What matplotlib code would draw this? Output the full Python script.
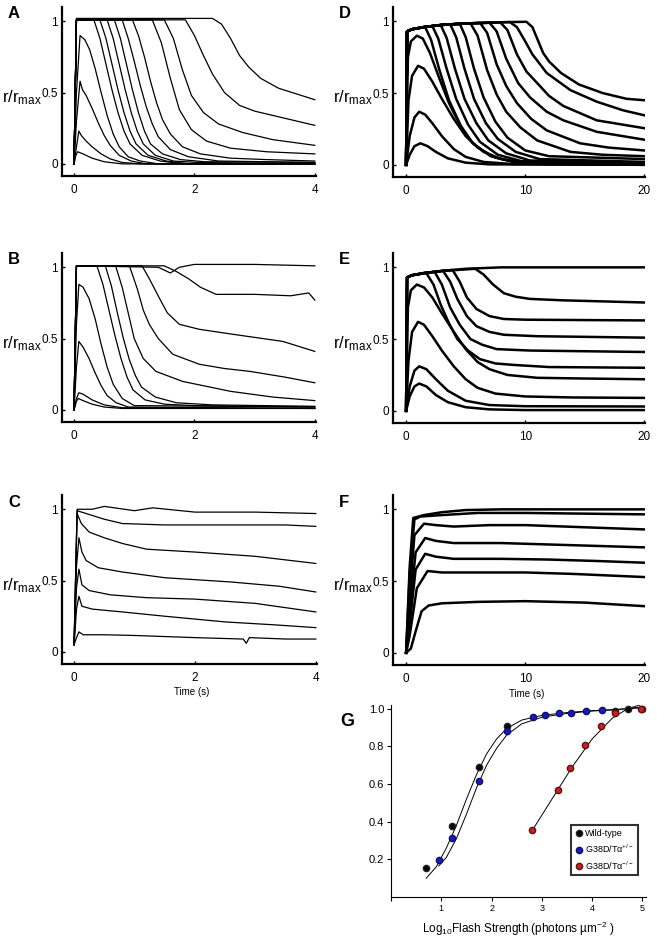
import matplotlib
matplotlib.use("Agg")
import matplotlib.pyplot as plt

plt.rcParams['font.family'] = ['Liberation Sans', 'DejaVu Sans']
plt.rcParams['mathtext.fontset'] = 'custom'
plt.rcParams['mathtext.rm'] = 'Liberation Sans'
plt.rcParams['mathtext.it'] = 'Liberation Sans:italic'
plt.rcParams['mathtext.bf'] = 'Liberation Sans:bold'
plt.rcParams['mathtext.default'] = 'regular'

# ---- recorded responses (A-C), time in s, r/rmax ----
traces_A = [
    ([0, 0.03, 0.06, 0.15, 0.3, 0.5, 0.8, 4.0], [0, 0.06, 0.085, 0.07, 0.04, 0.015, 0.0, 0.0]),
    ([0, 0.04, 0.08, 0.12, 0.2, 0.3, 0.45, 0.6, 0.8, 1.1, 4.0], [0, 0.12, 0.23, 0.2, 0.16, 0.12, 0.07, 0.035, 0.01, 0.0, 0.0]),
    ([0, 0.04, 0.1, 0.14, 0.2, 0.3, 0.4, 0.5, 0.6, 0.75, 0.95, 1.2, 4.0], [0, 0.3, 0.58, 0.52, 0.48, 0.39, 0.29, 0.2, 0.13, 0.06, 0.02, 0.0, 0.0]),
    ([0, 0.04, 0.1, 0.18, 0.26, 0.35, 0.45, 0.55, 0.65, 0.75, 0.9, 1.1, 1.4, 4.0], [0, 0.5, 0.9, 0.87, 0.8, 0.67, 0.5, 0.34, 0.21, 0.12, 0.05, 0.02, 0.0, 0.0]),
    ([0, 0.04, 0.33, 0.43, 0.53, 0.63, 0.73, 0.83, 0.93, 1.13, 1.43, 1.83, 4.0], [0, 1.01, 1.01, 0.88, 0.7, 0.52, 0.36, 0.23, 0.14, 0.06, 0.02, 0.0, 0.0]),
    ([0, 0.04, 0.43, 0.53, 0.63, 0.73, 0.83, 0.93, 1.03, 1.23, 1.53, 1.93, 4.0], [0, 1.01, 1.01, 0.88, 0.7, 0.52, 0.36, 0.23, 0.14, 0.06, 0.02, 0.0, 0.0]),
    ([0, 0.04, 0.55, 0.65, 0.75, 0.85, 0.95, 1.05, 1.15, 1.35, 1.65, 2.05, 4.0], [0, 1.01, 1.01, 0.88, 0.7, 0.52, 0.36, 0.23, 0.14, 0.06, 0.02, 0.01, 0.0]),
    ([0, 0.04, 0.67, 0.77, 0.87, 0.97, 1.07, 1.17, 1.27, 1.47, 1.77, 2.17, 4.0], [0, 1.01, 1.01, 0.88, 0.7, 0.52, 0.36, 0.23, 0.14, 0.07, 0.03, 0.015, 0.01]),
    ([0, 0.04, 0.8, 0.9, 1.0, 1.1, 1.2, 1.3, 1.4, 1.6, 1.9, 2.4, 4.0], [0, 1.01, 1.01, 0.88, 0.72, 0.55, 0.4, 0.28, 0.19, 0.1, 0.05, 0.02, 0.01]),
    ([0, 0.04, 0.97, 1.07, 1.17, 1.27, 1.37, 1.47, 1.6, 1.8, 2.1, 2.6, 3.2, 4.0], [0, 1.01, 1.01, 0.9, 0.75, 0.58, 0.43, 0.31, 0.21, 0.12, 0.07, 0.04, 0.03, 0.02]),
    ([0, 0.04, 1.3, 1.45, 1.6, 1.75, 1.95, 2.2, 2.6, 3.2, 4.0], [0, 1.01, 1.01, 0.85, 0.6, 0.38, 0.24, 0.16, 0.11, 0.085, 0.07]),
    ([0, 0.04, 1.5, 1.65, 1.8, 1.95, 2.15, 2.4, 2.8, 3.3, 4.0], [0, 1.01, 1.01, 0.88, 0.66, 0.48, 0.36, 0.28, 0.22, 0.17, 0.13]),
    ([0, 0.04, 1.85, 2.0, 2.15, 2.3, 2.5, 2.75, 3.0, 3.5, 4.0], [0, 1.01, 1.01, 0.9, 0.76, 0.63, 0.5, 0.41, 0.37, 0.32, 0.27]),
    ([0, 0.04, 2.3, 2.45, 2.6, 2.75, 2.9, 3.1, 3.4, 3.7, 4.0], [0, 1.02, 1.02, 0.98, 0.88, 0.76, 0.68, 0.6, 0.53, 0.49, 0.45]),
]

traces_B = [
    ([0, 0.04, 0.07, 0.15, 0.3, 0.5, 0.8, 4.0], [0, 0.06, 0.08, 0.065, 0.04, 0.02, 0.01, 0.01]),
    ([0, 0.04, 0.08, 0.15, 0.3, 0.5, 0.8, 4.0], [0, 0.08, 0.12, 0.11, 0.07, 0.035, 0.015, 0.01]),
    ([0, 0.04, 0.08, 0.15, 0.25, 0.35, 0.45, 0.55, 0.7, 0.9, 4.0], [0, 0.3, 0.48, 0.44, 0.36, 0.26, 0.17, 0.1, 0.05, 0.02, 0.01]),
    ([0, 0.04, 0.08, 0.15, 0.25, 0.35, 0.45, 0.55, 0.65, 0.8, 1.0, 4.0], [0, 0.6, 0.88, 0.86, 0.78, 0.64, 0.46, 0.3, 0.18, 0.08, 0.03, 0.02]),
    ([0, 0.04, 0.38, 0.48, 0.58, 0.68, 0.78, 0.88, 0.98, 1.18, 1.5, 2.0, 4.0], [0, 1.01, 1.01, 0.88, 0.7, 0.52, 0.36, 0.23, 0.14, 0.07, 0.04, 0.03, 0.02]),
    ([0, 0.04, 0.52, 0.62, 0.72, 0.82, 0.92, 1.02, 1.12, 1.35, 1.7, 2.3, 4.0], [0, 1.01, 1.01, 0.87, 0.68, 0.5, 0.35, 0.24, 0.16, 0.09, 0.05, 0.035, 0.025]),
    ([0, 0.04, 0.69, 0.8, 0.9, 1.0, 1.15, 1.36, 1.8, 2.6, 3.3, 4.0], [0, 1.01, 1.01, 0.86, 0.68, 0.5, 0.36, 0.27, 0.2, 0.13, 0.09, 0.065]),
    ([0, 0.04, 0.92, 1.05, 1.15, 1.25, 1.4, 1.64, 2.08, 2.5, 2.92, 3.5, 4.0], [0, 1.01, 1.01, 0.85, 0.7, 0.6, 0.5, 0.39, 0.32, 0.29, 0.27, 0.23, 0.19]),
    ([0, 0.04, 1.13, 1.25, 1.41, 1.55, 1.75, 2.08, 2.64, 3.47, 4.0], [0, 1.01, 1.01, 0.92, 0.79, 0.68, 0.6, 0.565, 0.53, 0.48, 0.41]),
    ([0, 0.04, 1.5, 1.7, 1.9, 2.1, 2.36, 3.0, 3.6, 3.9, 4.0], [0, 1.01, 1.01, 0.97, 0.92, 0.86, 0.81, 0.81, 0.8, 0.82, 0.77]),
    ([0, 0.04, 1.4, 1.6, 1.75, 2.0, 3.0, 4.0], [0, 1.01, 1.0, 0.96, 1.0, 1.02, 1.02, 1.01]),
]

traces_C = [
    ([0, 0.05, 0.3, 0.5, 1.0, 1.3, 2.0, 3.0, 4.0], [0.05, 1.0, 1.0, 1.02, 0.99, 1.01, 0.98, 0.98, 0.97]),
    ([0, 0.05, 0.2, 0.5, 0.8, 1.5, 2.5, 3.5, 4.0], [0.05, 0.99, 0.97, 0.93, 0.9, 0.89, 0.89, 0.89, 0.88]),
    ([0, 0.05, 0.12, 0.25, 0.5, 0.8, 1.2, 2.0, 3.0, 4.0], [0.05, 0.97, 0.9, 0.84, 0.8, 0.76, 0.72, 0.7, 0.67, 0.62]),
    ([0, 0.04, 0.08, 0.13, 0.2, 0.4, 0.8, 1.5, 2.6, 3.4, 4.0], [0.05, 0.6, 0.8, 0.7, 0.64, 0.59, 0.56, 0.52, 0.49, 0.46, 0.42]),
    ([0, 0.04, 0.08, 0.13, 0.25, 0.6, 1.2, 2.0, 3.0, 4.0], [0.05, 0.45, 0.58, 0.47, 0.43, 0.4, 0.38, 0.37, 0.34, 0.28]),
    ([0, 0.04, 0.08, 0.13, 0.3, 0.8, 1.5, 2.5, 3.3, 4.0], [0.05, 0.3, 0.39, 0.32, 0.3, 0.28, 0.25, 0.21, 0.19, 0.17]),
    ([0, 0.04, 0.08, 0.15, 0.5, 1.0, 2.0, 2.8, 2.85, 2.9, 3.5, 4.0], [0.05, 0.1, 0.14, 0.12, 0.12, 0.115, 0.1, 0.09, 0.06, 0.1, 0.09, 0.09]),
]

# ---- model responses (D-F) ----
traces_D = [
    ([0, 0.3, 0.7, 1.2, 1.8, 2.5, 3.5, 5, 7, 20], [0, 0.07, 0.13, 0.15, 0.13, 0.09, 0.045, 0.015, 0.003, 0]),
    ([0, 0.3, 0.7, 1.1, 1.6, 2.2, 3, 4, 5, 6.5, 9, 20], [0, 0.2, 0.33, 0.37, 0.35, 0.29, 0.2, 0.11, 0.055, 0.02, 0.005, 0]),
    ([0, 0.2, 0.5, 1.0, 1.5, 2.2, 3, 4, 5, 6, 7.5, 9, 12, 20], [0, 0.45, 0.62, 0.69, 0.67, 0.58, 0.46, 0.32, 0.2, 0.12, 0.05, 0.02, 0.005, 0]),
    ([0, 0.15, 0.4, 0.9, 1.4, 2.0, 2.8, 3.6, 4.5, 5.5, 6.5, 8, 10, 20], [0, 0.75, 0.86, 0.9, 0.88, 0.78, 0.6, 0.43, 0.28, 0.16, 0.09, 0.04, 0.015, 0.003]),
    ([0, 0.08, 0.5, 1.6, 2.1, 2.8, 3.6, 4.6, 5.6, 7.1, 9.1, 20], [0, 0.93, 0.945, 0.96, 0.87, 0.66, 0.45, 0.27, 0.15, 0.06, 0.02, 0.003]),
    ([0, 0.08, 0.5, 1.5, 2.2, 2.7, 3.4, 4.2, 5.2, 6.2, 7.7, 9.7, 20], [0, 0.93, 0.945, 0.96, 0.967, 0.88, 0.67, 0.46, 0.28, 0.16, 0.07, 0.025, 0.005]),
    ([0, 0.08, 0.5, 1.5, 2.9, 3.4, 4.1, 4.9, 5.9, 6.9, 8.4, 10.4, 20], [0, 0.93, 0.945, 0.96, 0.975, 0.885, 0.67, 0.46, 0.29, 0.17, 0.08, 0.03, 0.01]),
    ([0, 0.08, 0.5, 1.5, 3.0, 3.7, 4.2, 4.9, 5.7, 6.7, 7.7, 9.2, 11.2, 20], [0, 0.93, 0.945, 0.96, 0.975, 0.98, 0.89, 0.67, 0.46, 0.29, 0.18, 0.09, 0.04, 0.02]),
    ([0, 0.08, 0.5, 1.5, 3.0, 4.5, 5.0, 5.7, 6.5, 7.5, 8.5, 10, 12, 20], [0, 0.93, 0.945, 0.96, 0.975, 0.985, 0.89, 0.67, 0.47, 0.3, 0.19, 0.1, 0.06, 0.04]),
    ([0, 0.08, 0.5, 1.5, 3.0, 5.4, 6.0, 6.8, 7.6, 8.4, 9.6, 11, 13.8, 16.5, 20], [0, 0.93, 0.945, 0.96, 0.975, 0.987, 0.9, 0.66, 0.49, 0.37, 0.26, 0.17, 0.09, 0.07, 0.06]),
    ([0, 0.08, 0.5, 1.5, 3.0, 5.0, 6.2, 6.8, 7.6, 8.4, 9.3, 10.5, 11.8, 14.6, 17, 20], [0, 0.93, 0.945, 0.96, 0.975, 0.985, 0.99, 0.92, 0.7, 0.55, 0.43, 0.32, 0.24, 0.15, 0.12, 0.1]),
    ([0, 0.08, 0.5, 1.5, 3.0, 5.0, 7.0, 7.6, 8.4, 9.4, 10.4, 11.8, 13.2, 16, 20], [0, 0.93, 0.945, 0.96, 0.975, 0.985, 0.99, 0.93, 0.74, 0.57, 0.47, 0.37, 0.31, 0.23, 0.175]),
    ([0, 0.08, 0.5, 1.5, 3.0, 5.0, 7.9, 8.5, 9.3, 10.1, 11, 12, 13.2, 16, 20], [0, 0.93, 0.945, 0.96, 0.975, 0.985, 0.993, 0.94, 0.77, 0.65, 0.57, 0.48, 0.41, 0.31, 0.255]),
    ([0, 0.08, 0.5, 1.5, 3.0, 5.0, 8.7, 9.3, 10.0, 10.6, 11.8, 13.8, 16, 18.2, 20], [0, 0.93, 0.945, 0.96, 0.975, 0.985, 0.995, 0.96, 0.86, 0.77, 0.64, 0.52, 0.44, 0.38, 0.345]),
    ([0, 0.08, 0.5, 1.5, 3.0, 5.0, 7.5, 10.1, 10.6, 11.0, 11.5, 12.0, 13.0, 14.5, 16.5, 18.5, 20], [0, 0.93, 0.945, 0.96, 0.975, 0.985, 0.993, 0.997, 0.96, 0.88, 0.78, 0.72, 0.64, 0.56, 0.5, 0.46, 0.45]),
]

traces_E = [
    ([0, 0.3, 0.7, 1.1, 1.7, 2.5, 3.5, 5, 7, 10, 20], [0, 0.1, 0.17, 0.19, 0.17, 0.11, 0.06, 0.025, 0.01, 0.005, 0.005]),
    ([0, 0.3, 0.7, 1.1, 1.7, 2.5, 3.5, 5, 7, 10, 20], [0, 0.17, 0.28, 0.31, 0.29, 0.22, 0.14, 0.07, 0.04, 0.032, 0.03]),
    ([0, 0.2, 0.5, 1.0, 1.5, 2.2, 3, 4, 5, 6, 7.5, 10, 14, 20], [0, 0.35, 0.55, 0.62, 0.6, 0.52, 0.42, 0.31, 0.22, 0.16, 0.12, 0.1, 0.093, 0.09]),
    ([0, 0.15, 0.4, 0.9, 1.5, 2.2, 3, 4, 5, 6, 7, 8.5, 11, 15, 20], [0, 0.72, 0.84, 0.88, 0.86, 0.79, 0.68, 0.55, 0.43, 0.34, 0.29, 0.25, 0.23, 0.225, 0.22]),
    ([0, 0.08, 0.5, 1.7, 2.3, 2.9, 3.6, 4.3, 5.2, 6.2, 7.5, 9, 12, 20], [0, 0.93, 0.945, 0.96, 0.88, 0.74, 0.61, 0.5, 0.42, 0.36, 0.33, 0.32, 0.305, 0.3]),
    ([0, 0.08, 0.5, 1.5, 2.4, 3, 3.7, 4.5, 5.4, 6.4, 7.6, 10.4, 20], [0, 0.93, 0.945, 0.96, 0.968, 0.88, 0.72, 0.6, 0.5, 0.46, 0.43, 0.42, 0.41]),
    ([0, 0.08, 0.5, 1.5, 3.1, 3.7, 4.3, 5.1, 5.9, 7, 8.2, 11, 20], [0, 0.93, 0.945, 0.96, 0.975, 0.9, 0.78, 0.66, 0.59, 0.55, 0.53, 0.52, 0.51]),
    ([0, 0.08, 0.5, 1.5, 3, 3.9, 4.5, 5.1, 5.9, 7, 8.2, 10, 20], [0, 0.93, 0.945, 0.96, 0.975, 0.982, 0.9, 0.79, 0.71, 0.66, 0.64, 0.635, 0.63]),
    ([0, 0.08, 0.5, 1.5, 3, 5.8, 6.5, 7.3, 8.2, 9.2, 10.4, 13.2, 20], [0, 0.93, 0.945, 0.96, 0.975, 0.99, 0.95, 0.88, 0.82, 0.795, 0.78, 0.77, 0.755]),
    ([0, 0.08, 0.5, 1.5, 3, 5, 8, 20], [0, 0.93, 0.945, 0.96, 0.975, 0.99, 1.0, 1.0]),
]

traces_F = [
    ([0, 0.3, 0.6, 1.5, 3, 5, 8, 20], [0, 0.6, 0.94, 0.96, 0.98, 0.995, 1.0, 1.0]),
    ([0, 0.3, 0.7, 1.2, 3, 6, 10, 15, 20], [0, 0.55, 0.93, 0.95, 0.96, 0.975, 0.975, 0.97, 0.965]),
    ([0, 0.3, 0.7, 1.5, 2.5, 4, 7, 10, 15, 20], [0, 0.4, 0.82, 0.9, 0.89, 0.88, 0.89, 0.89, 0.875, 0.86]),
    ([0, 0.3, 0.8, 1.6, 2.5, 4, 8, 12, 16, 20], [0, 0.3, 0.7, 0.8, 0.78, 0.765, 0.765, 0.755, 0.745, 0.735]),
    ([0, 0.3, 0.8, 1.6, 2.5, 4, 8, 12, 16, 20], [0, 0.2, 0.58, 0.69, 0.67, 0.655, 0.655, 0.65, 0.64, 0.628]),
    ([0, 0.3, 0.9, 1.8, 3, 6, 10, 14, 20], [0, 0.12, 0.45, 0.57, 0.56, 0.56, 0.56, 0.55, 0.528]),
    ([0, 0.4, 0.8, 1.3, 1.9, 3, 6, 10, 15, 20], [0, 0.03, 0.15, 0.29, 0.33, 0.345, 0.355, 0.36, 0.35, 0.325]),
]

# ---- panel G: intensity-response ----
wt_x = [0.69, 1.21, 1.74, 2.30, 4.45, 4.71, 4.99]
wt_y = [0.156, 0.378, 0.689, 0.911, 0.99, 0.997, 1.0]
het_x = [0.95, 1.22, 1.74, 2.30, 2.83, 3.06, 3.34, 3.58, 3.87, 4.19]
het_y = [0.197, 0.315, 0.617, 0.88, 0.955, 0.966, 0.975, 0.979, 0.986, 0.992]
ko_x = [2.81, 3.32, 3.56, 3.85, 4.17, 4.45, 4.98]
ko_y = [0.356, 0.566, 0.684, 0.809, 0.909, 0.979, 1.0]

fit_wt_x = [0.7, 0.9, 1.1, 1.3, 1.5, 1.7, 1.9, 2.1, 2.3, 2.6, 3.0, 3.5, 4.0, 4.5, 5.0]
fit_wt_y = [0.10, 0.16, 0.26, 0.38, 0.52, 0.65, 0.76, 0.84, 0.895, 0.94, 0.965, 0.98, 0.99, 0.997, 1.005]
fit_het_x = [0.95, 1.1, 1.3, 1.5, 1.7, 1.9, 2.1, 2.3, 2.6, 3.0, 3.5, 4.0, 4.5, 5.0]
fit_het_y = [0.165, 0.21, 0.31, 0.44, 0.58, 0.70, 0.79, 0.86, 0.92, 0.955, 0.975, 0.988, 0.995, 1.01]
fit_ko_x = [2.8, 3.2, 3.6, 4.0, 4.4, 4.7, 4.95]
fit_ko_y = [0.35, 0.52, 0.69, 0.84, 0.95, 1.0, 1.02]

W, H = 657, 938
fig = plt.figure(figsize=(W / 100, H / 100), dpi=100)


def add_ax(l, t, r, b):
    return fig.add_axes([l / W, 1 - b / H, (r - l) / W, (b - t) / H])


def style_trace_ax(ax, xmin, xmax, xticks):
    ax.set_xlim(xmin, xmax)
    ax.set_ylim(-0.085, 1.1)
    for s in ['top', 'right']:
        ax.spines[s].set_visible(False)
    for s in ['left', 'bottom']:
        ax.spines[s].set_linewidth(1.6)
    ax.set_xticks(xticks)
    ax.set_xticklabels([str(v) for v in xticks])
    ax.set_yticks([0, 0.5, 1])
    ax.set_yticklabels(['0', '0.5', '1'])
    ax.tick_params(axis='x', direction='in', length=2, width=1, labelsize=8.5, pad=6)
    ax.tick_params(axis='y', direction='in', length=2, width=1, labelsize=8.5, pad=3)


panels = [
    ('A', traces_A, (62, 7, 316, 176), (-0.2, 4.02), [0, 2, 4], 0.9),
    ('B', traces_B, (62, 253, 316, 422), (-0.2, 4.02), [0, 2, 4], 0.9),
    ('C', traces_C, (62, 495, 317, 664), (-0.2, 4.02), [0, 2, 4], 0.9),
    ('D', traces_D, (393, 7, 645, 177), (-1.1, 20.05), [0, 10, 20], 1.8),
    ('E', traces_E, (393, 253, 645, 423), (-1.1, 20.05), [0, 10, 20], 1.8),
    ('F', traces_F, (393, 495, 645, 665), (-1.1, 20.05), [0, 10, 20], 1.8),
]

for letter, traces, box, xl, xt, lw in panels:
    ax = add_ax(*box)
    for t, r in traces:
        ax.plot(t, r, color='black', lw=lw, solid_joinstyle='round')
    style_trace_ax(ax, xl[0], xl[1], xt)
    l, t0, r0, b = box
    fig.text((l - 54) / W, 1 - (t0 + 7) / H, letter, fontsize=12, fontweight='bold', va='center', ha='left')
    y_half = t0 + (b - t0) * (1.1 - 0.5) / 1.185
    fig.text((l - 60) / W, 1 - (y_half + 5) / H, 'r/r$_{max}$', fontsize=12, va='center', ha='left')

fig.text(192 / W, 1 - 692 / H, 'Time (s)', fontsize=7, ha='center', va='center')
fig.text(527 / W, 1 - 694 / H, 'Time (s)', fontsize=7, ha='center', va='center')

# panel G
axg = add_ax(391, 705, 646, 897)
axg.plot(fit_wt_x, fit_wt_y, color='black', lw=0.7)
axg.plot(fit_het_x, fit_het_y, color='black', lw=0.7)
axg.plot(fit_ko_x, fit_ko_y, color='black', lw=0.7)
axg.plot(wt_x, wt_y, 'o', color='black', mec='#222222', ms=4.5, label='Wild-type')
axg.plot(het_x, het_y, 'o', color='#1818c8', mec='#101060', ms=4.5, label='G38D/Tα$^{+/-}$')
axg.plot(ko_x, ko_y, 'o', color='#cc2020', mec='#601010', ms=4.5, label='G38D/Tα$^{-/-}$')
axg.set_xlim(0, 5.07)
axg.set_ylim(0, 1.02)
for s in ['top', 'right']:
    axg.spines[s].set_visible(False)
axg.set_xticks([0, 1, 2, 3, 4, 5])
axg.set_xticklabels(['', '1', '2', '3', '4', '5'])
axg.set_yticks([0.2, 0.4, 0.6, 0.8, 1.0])
axg.set_yticklabels(['0.2', '0.4', '0.6', '0.8', '1.0'])
axg.tick_params(axis='x', direction='out', length=3, width=0.8, labelsize=6.5, pad=2)
axg.tick_params(axis='y', direction='out', length=3, width=0.8, labelsize=8, pad=2)
axg.set_xlabel('Log$_{10}$Flash Strength (photons µm$^{-2}$ )', fontsize=8.5, labelpad=5)
leg = axg.legend(loc='lower right', fontsize=6.5, frameon=True, fancybox=False,
                 handletextpad=0.2, borderpad=0.4, labelspacing=0.5, handlelength=1.0,
                 bbox_to_anchor=(0.985, 0.09))
leg.get_frame().set_edgecolor('black')
leg.get_frame().set_linewidth(1.5)
fig.text(340 / W, 1 - 721 / H, 'G', fontsize=13, fontweight='bold', va='center', ha='left')

fig.savefig('out.png', dpi=100)
